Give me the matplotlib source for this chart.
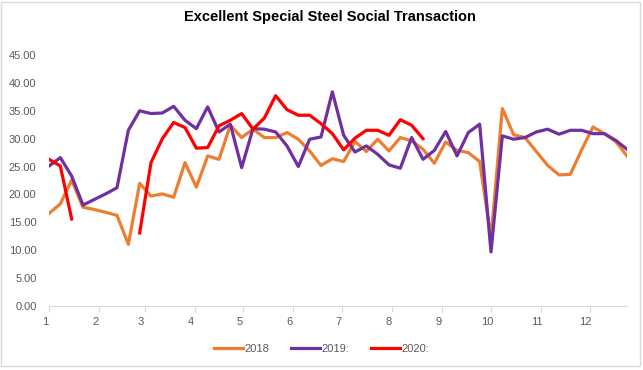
import numpy as np
import matplotlib
matplotlib.use('Agg')
from matplotlib import pyplot as plt
import matplotlib.transforms as mtransforms
from matplotlib.patches import Rectangle

plt.rcParams['font.family'] = ['Liberation Sans', 'DejaVu Sans']

# weekly samples, x position = day of year
weeks = np.arange(52)
days = weeks * 7

v2018 = [16.6, 18.3, 22.6, 17.7, 17.3, 16.8, 16.25, 11.05, 22.0, 19.7,
         20.1, 19.5, 25.7, 21.3, 26.9, 26.3, 32.4, 30.2, 31.7, 30.2,
         30.2, 31.1, 29.9, 27.8, 25.2, 26.4, 25.9, 29.5, 27.7, 29.9,
         27.8, 30.2, 29.6, 28.1, 25.6, 29.4, 27.9, 27.5, 25.9, 12.2,
         35.4, 30.7, 30.2, 27.7, 25.2, 23.5, 23.6, 28.0, 32.1, 30.9,
         29.5, 26.9]

v2019 = [25.1, 26.6, 23.3, 18.1, 19.1, 20.1, 21.2, 31.5, 35.0, 34.5,
         34.6, 35.8, 33.3, 31.8, 35.7, 31.2, 32.6, 24.8, 31.8, 31.7,
         31.2, 28.7, 25.0, 29.9, 30.3, 38.4, 30.6, 27.6, 28.7, 27.2,
         25.3, 24.7, 30.2, 26.3, 27.9, 31.3, 26.9, 31.1, 32.6, 9.7,
         30.5, 29.9, 30.2, 31.2, 31.7, 30.8, 31.5, 31.5, 30.9, 30.9,
         29.7, 28.1]

# 2020: gap between week 3 and week 8, data ends at week 33
nan = np.nan
v2020 = [26.3, 25.1, 15.6, nan, nan, nan, nan, nan, 13.1, 25.7,
         30.0, 32.9, 32.0, 28.3, 28.4, 32.3, 33.3, 34.5, 31.7, 33.7,
         37.7, 35.2, 34.2, 34.2, 32.7, 30.9, 28.0, 30.1, 31.5, 31.5,
         30.6, 33.4, 32.4, 30.0]

month_starts = [0, 31, 59, 90, 120, 151, 181, 212, 243, 273, 304, 334]
month_labels = [str(m) for m in range(1, 13)]
yticks = np.arange(0, 50, 5)

colors = {'2018': '#ED7D31', '2019:': '#7030A0', '2020:': '#FF0000'}
gray = '#595959'

fig = plt.figure(figsize=(6.43, 3.70), dpi=100)
ax = fig.add_axes([49 / 643, 64 / 370, 578 / 643, 251 / 370])

ax.plot(days, v2018, color=colors['2018'], lw=2.3, label='2018')
ax.plot(days, v2019, color=colors['2019:'], lw=2.3, label='2019:')
ax.plot(days[:len(v2020)], v2020, color=colors['2020:'], lw=2.3, label='2020:')

ax.set_xlim(0, 357)
ax.set_ylim(0, 45)
ax.set_yticks(yticks, [f'{t:.2f}' for t in yticks])
ax.set_xticks(month_starts, month_labels)

for s in ['top', 'right', 'left']:
    ax.spines[s].set_visible(False)
ax.spines['bottom'].set_color('#D9D9D9')
ax.tick_params(axis='y', length=0, labelsize=8, labelcolor=gray, pad=9)
ax.tick_params(axis='x', length=4, color='#D9D9D9', labelsize=8, labelcolor=gray, pad=4)
off = mtransforms.ScaledTranslation(-4 / 100, 0, fig.dpi_scale_trans)
for lab in ax.get_xticklabels():
    lab.set_transform(lab.get_transform() + off)

fig.suptitle('Excellent Special Steel Social Transaction', x=0.513, y=0.972,
             fontsize=10.5, fontweight='bold', color='black')

fig.legend(loc='center', bbox_to_anchor=(0.5, 1 - 349 / 370), ncols=3, frameon=False,
           fontsize=8, labelcolor=gray, handlelength=2.6, columnspacing=2.0, handletextpad=0.1)

fig.patches.append(Rectangle((0.002, 0.01), 0.994, 0.985, transform=fig.transFigure,
                             fill=False, edgecolor='#D9D9D9', lw=1))

fig.savefig('out.png', dpi=100)
